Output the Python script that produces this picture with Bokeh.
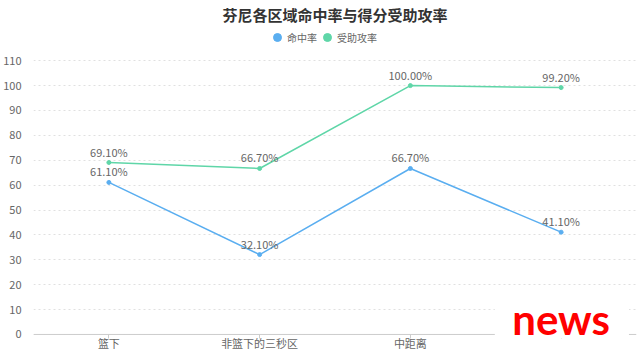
from bokeh.plotting import figure
from bokeh.models import (ColumnDataSource, LabelSet, Legend, LegendItem,
                          FixedTicker, BoxAnnotation, Label, Range1d, Span)
from bokeh.core.properties import value
from bokeh.embed import file_html
from bokeh.resources import INLINE

categories = ["篮下", "非篮下的三秒区", "中距离", "三分"]
fg_pct = [61.1, 32.1, 66.7, 41.1]
assisted_pct = [69.1, 66.7, 100.0, 99.2]
y_ticks = list(range(0, 111, 10))
series_names = ["命中率", "受助攻率"]
title_text = "芬尼各区域命中率与得分受助攻率"

BLUE = "#5AAEF0"
GREEN = "#5FD6A8"
FONT = "Noto Sans CJK SC"

idx = list(range(len(categories)))

p = figure(width=640, height=356, x_range=Range1d(-0.5, len(categories) - 0.5),
           y_range=Range1d(-1.62, 124.15), output_backend="svg", toolbar_location=None,
           title=title_text,
           min_border_left=28, min_border_right=4, min_border_top=0,
           min_border_bottom=18, background_fill_color="white",
           border_fill_color="white", outline_line_color=None)
p.title.align = "center"
p.title.text_font_size = "15px"
p.title.text_font_style = "bold"
p.title.text_color = "#333"
p.title.text_font = FONT
p.title.standoff = 2

src_a = ColumnDataSource(dict(x=idx, y=fg_pct,
                              t=["%.2f%%" % v for v in fg_pct]))
src_b = ColumnDataSource(dict(x=idx, y=assisted_pct,
                              t=["%.2f%%" % v for v in assisted_pct]))

# baseline (x axis line at 0)
p.add_layout(Span(location=y_ticks[0], dimension="width", line_color="#ccc",
                  line_width=1, level="underlay"))

p.line("x", "y", source=src_a, line_color=BLUE, line_width=1.5)
dots_a = p.scatter("x", "y", source=src_a, size=4, fill_color=BLUE, line_color=BLUE)
p.line("x", "y", source=src_b, line_color=GREEN, line_width=1.5)
dots_b = p.scatter("x", "y", source=src_b, size=4, fill_color=GREEN, line_color=GREEN)

for src in (src_a, src_b):
    p.add_layout(LabelSet(x="x", y="y", text="t", source=src, y_offset=3,
                          text_align="center", text_baseline="bottom",
                          text_font_size="11px", text_color="#666",
                          text_font=value(FONT)))

legend = Legend(items=[LegendItem(label=series_names[0], renderers=[dots_a]),
                       LegendItem(label=series_names[1], renderers=[dots_b])],
                orientation="horizontal", location=(234, 291),
                border_line_alpha=0, background_fill_alpha=0,
                label_text_font_size="10px", label_text_color="#666",
                label_text_font=FONT, glyph_width=20, glyph_height=20,
                label_standoff=-3, spacing=0, padding=0, margin=0,
                label_height=20)
p.add_layout(legend)

# axes
p.yaxis.ticker = FixedTicker(ticks=y_ticks)
p.yaxis.axis_line_color = None
p.yaxis.major_tick_line_color = None
p.yaxis.minor_tick_line_color = None
p.yaxis.major_label_text_font_size = "11px"
p.yaxis.major_label_text_color = "#666"
p.yaxis.major_label_text_font = FONT
p.yaxis.major_label_standoff = 6

p.xaxis.ticker = FixedTicker(ticks=idx)
p.xaxis.minor_tick_line_color = None
p.xaxis.axis_line_color = None
p.xaxis.major_tick_line_color = "#ccc"
p.xaxis.major_tick_in = 4
p.xaxis.major_tick_out = 0
p.xaxis.major_label_text_font_size = "11px"
p.xaxis.major_label_text_color = "#666"
p.xaxis.major_label_text_font = FONT
p.xaxis.major_label_standoff = -4
# the last category's label is hidden behind the watermark in the reference
p.xaxis.major_label_overrides = {i: (c if i < len(categories) - 1 else " ")
                                 for i, c in zip(idx, categories)}

p.xgrid.grid_line_color = None
p.ygrid.grid_line_color = "#e0e0e0"
p.ygrid.grid_line_dash = "2 3"

# watermark
p.add_layout(BoxAnnotation(left=2.56, right=3.45, bottom=-1.62, top=15,
                           fill_color="white", fill_alpha=1, line_alpha=0,
                           level="overlay"))
p.add_layout(Label(x=idx[-1], y=6.3, text="news", text_align="center",
                   text_baseline="middle", text_font_size="42px",
                   text_font_style="bold", text_color="#FF0000", text_font="Lato",
                   level="overlay"))

open("out.html", "w").write(file_html(p, INLINE))
